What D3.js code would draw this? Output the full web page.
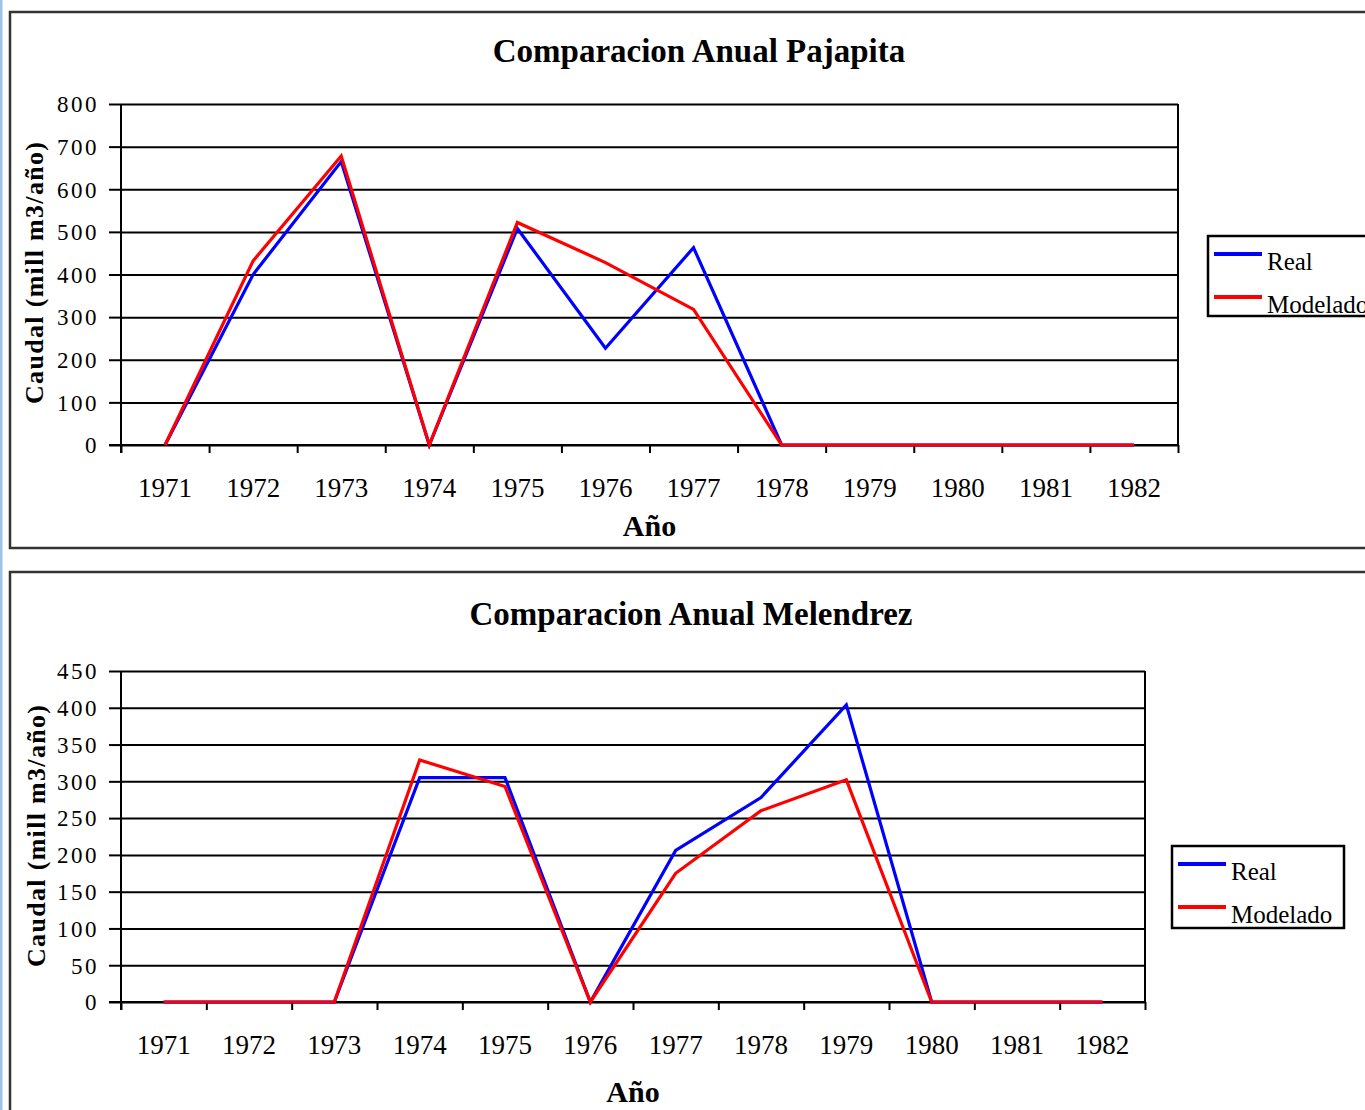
<!DOCTYPE html>
<html>
<head>
<meta charset="utf-8">
<script src="https://cdn.jsdelivr.net/npm/d3@7"></script>
<style>
  html, body { margin: 0; padding: 0; background: #fff; }
  svg { display: block; }
  text { font-family: "Liberation Serif", "Times New Roman", serif; fill: #000; }
</style>
</head>
<body>
<svg id="chart" width="1365" height="1110"></svg>
<script>
// ---- Data ----
const years = ["1971","1972","1973","1974","1975","1976","1977","1978","1979","1980","1981","1982"];

const pajapitaReal     = [0, 400, 665, 0, 508, 227, 463, 0, 0, 0, 0, 0];
const pajapitaModelado = [0, 432, 678, 0, 522, 428, 318, 0, 0, 0, 0, 0];
const pajapitaTicks    = [0, 100, 200, 300, 400, 500, 600, 700, 800];

const melendrezReal     = [0, 0, 0, 305, 305, 0, 206, 278, 404, 0, 0, 0];
const melendrezModelado = [0, 0, 0, 329, 293, 0, 175, 260, 302, 0, 0, 0];
const melendrezTicks    = [0, 50, 100, 150, 200, 250, 300, 350, 400, 450];

const seriesNames  = ["Real", "Modelado"];
const seriesColors = ["#0000FF", "#FF0000"];

const titles = ["Comparacion Anual Pajapita", "Comparacion Anual Melendrez"];
const yTitle = "Caudal (mill m3/año)";
const xTitle = "Año";

// ---- Drawing ----
const svg = d3.select("#chart");

// page edge line
svg.append("rect").attr("x", 0).attr("y", 0).attr("width", 2.5).attr("height", 1110).attr("fill", "#9cc2e8");

function drawChart(cfg) {
  const g = svg.append("g");
  // frame
  g.append("rect")
    .attr("x", cfg.frame[0]).attr("y", cfg.frame[1])
    .attr("width", cfg.frame[2]).attr("height", cfg.frame[3])
    .attr("fill", "none").attr("stroke", "#333").attr("stroke-width", 2.5);

  const x = d3.scaleBand().domain(years).range([cfg.left, cfg.right]).padding(0);
  const xl = d3.scaleLinear().domain([0, years.length]).range([cfg.left, cfg.right]);
  const y = d3.scaleLinear().domain([0, cfg.max]).range([cfg.bottom, cfg.top]);

  // gridlines
  g.append("g")
    .attr("transform", `translate(${cfg.left},0)`)
    .call(d3.axisLeft(y).tickValues(cfg.ticks).tickSize(-(cfg.right - cfg.left)).tickFormat(""))
    .call(s => s.select(".domain").remove())
    .call(s => s.selectAll("line").attr("stroke", "#000").attr("stroke-width", 2));

  // right border
  g.append("line").attr("x1", cfg.right).attr("x2", cfg.right)
    .attr("y1", cfg.top).attr("y2", cfg.bottom)
    .attr("stroke", "#000").attr("stroke-width", 2);

  // y axis
  const ya = g.append("g")
    .attr("transform", `translate(${cfg.left},0)`)
    .call(d3.axisLeft(y).tickValues(cfg.ticks).tickSize(12).tickPadding(10).tickFormat(d3.format("d")));
  ya.select(".domain").attr("stroke", "#000").attr("stroke-width", 2).attr("d", `M0,${cfg.top}V${cfg.bottom + 8}`);
  ya.selectAll("line").attr("stroke", "#000").attr("stroke-width", 2);
  ya.selectAll("text").style("font-size", "23px").style("letter-spacing", "2.5px")
    .attr("font-family", "Liberation Serif").attr("dy", "0.34em");

  // x axis ticks at band boundaries
  const xa = g.append("g")
    .attr("transform", `translate(0,${cfg.bottom})`)
    .call(d3.axisBottom(xl).tickValues(d3.range(0, years.length + 1)).tickSize(8).tickFormat(""));
  xa.select(".domain").attr("stroke", "#000").attr("stroke-width", 2).attr("d", `M${cfg.left - 12},0H${cfg.right}`);
  xa.selectAll("line").attr("stroke", "#000").attr("stroke-width", 2);

  // x labels at band centers
  const xb = g.append("g")
    .attr("transform", `translate(0,${cfg.bottom})`)
    .call(d3.axisBottom(x).tickSize(0).tickPadding(cfg.xLabelPad));
  xb.select(".domain").remove();
  xb.selectAll("text").style("font-size", "27px").attr("font-family", "Liberation Serif");

  // lines
  const line = d3.line().x((d, i) => x(years[i]) + x.bandwidth() / 2).y(d => y(d));
  cfg.series.forEach((s, k) => {
    g.append("path").datum(s)
      .attr("d", line)
      .attr("fill", "none")
      .attr("stroke", seriesColors[k])
      .attr("stroke-width", 3.2)
      .attr("stroke-linejoin", "miter");
  });

  // title
  g.append("text")
    .attr("x", cfg.titleX).attr("y", cfg.titleY)
    .attr("text-anchor", "middle")
    .style("font-size", "33px").style("font-weight", "bold")
    .text(cfg.title);

  // axis titles
  g.append("text")
    .attr("transform", `translate(${cfg.yTitleX},${cfg.yTitleY}) rotate(-90)`)
    .attr("text-anchor", "middle")
    .attr("textLength", 262).attr("lengthAdjust", "spacing")
    .style("font-size", "26px").style("font-weight", "bold")
    .text(yTitle);

  g.append("text")
    .attr("x", (cfg.left + cfg.right) / 2).attr("y", cfg.xTitleY)
    .attr("text-anchor", "middle")
    .style("font-size", "30px").style("font-weight", "bold")
    .text(xTitle);

  // legend
  const L = cfg.legend;
  const lg = g.append("g").attr("transform", `translate(${L[0]},${L[1]})`);
  lg.append("rect").attr("width", L[2]).attr("height", L[3])
    .attr("fill", "#fff").attr("stroke", "#000").attr("stroke-width", 2.5);
  seriesNames.forEach((n, k) => {
    const yy = 18 + k * 43;
    lg.append("line").attr("x1", 6).attr("x2", 54).attr("y1", yy).attr("y2", yy)
      .attr("stroke", seriesColors[k]).attr("stroke-width", 4);
    lg.append("text").attr("x", 59).attr("y", yy + 16)
      .style("font-size", "25px").text(n);
  });
}

drawChart({
  frame: [10, 12, 1420, 536],
  left: 121, right: 1178, top: 104, bottom: 445,
  max: 800, ticks: pajapitaTicks,
  series: [pajapitaReal, pajapitaModelado],
  title: titles[0], titleX: 699, titleY: 62,
  yTitleX: 43, yTitleY: 273,
  xLabelPad: 33, xTitleY: 536,
  legend: [1208, 236, 200, 80]
});

drawChart({
  frame: [10, 572, 1420, 600],
  left: 121, right: 1145, top: 671, bottom: 1002,
  max: 450, ticks: melendrezTicks,
  series: [melendrezReal, melendrezModelado],
  title: titles[1], titleX: 691, titleY: 625,
  yTitleX: 45, yTitleY: 836,
  xLabelPad: 33, xTitleY: 1102,
  legend: [1172, 846, 172, 82]
});
</script>
</body>
</html>
